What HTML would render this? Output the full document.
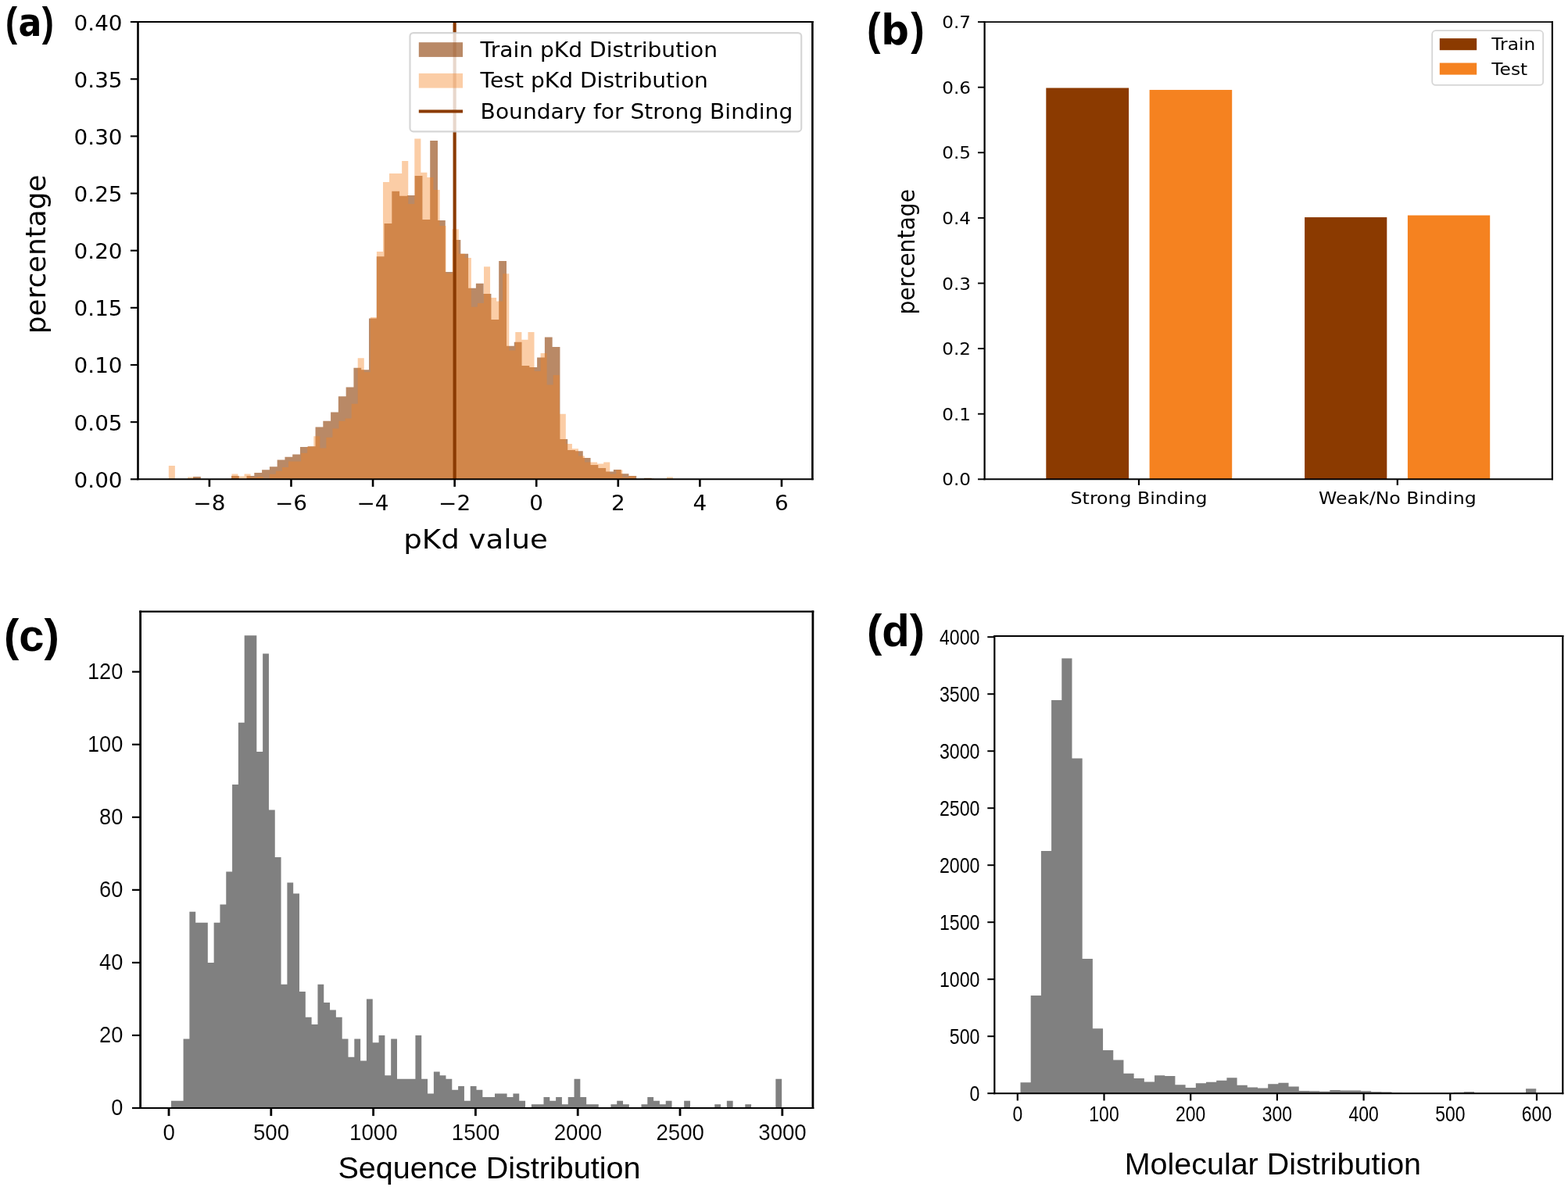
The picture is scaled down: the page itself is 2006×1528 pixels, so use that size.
<!DOCTYPE html>
<html lang="en"><head><meta charset="utf-8"><title>Dataset distributions</title>
<style>html,body{margin:0;padding:0;background:#fff;}body{width:2006px;height:1528px;overflow:hidden;}svg{display:block;}text{fill:#000;}</style>
</head><body>
<svg xmlns="http://www.w3.org/2000/svg" width="2006" height="1528" viewBox="0 0 2006 1528">
<rect x="0" y="0" width="2006" height="1528" fill="#fff"/>
<g id="panel-a">
<g>
<path d="M247.09 613.3 V610.1 H256.87 V613.3 Z M295.98 613.3 V609.1 H305.76 V613 H315.54 V609 H325.32 V605 H335.1 V601.2 H344.87 V597.2 H354.65 V588.4 H364.43 V584.8 H374.21 V581.6 H383.99 V572 H393.76 V571.3 H403.54 V546.4 H413.32 V538.8 H423.1 V527.4 H432.88 V507.3 H442.65 V495.4 H452.43 V470.7 H462.21 V473.2 H471.99 V407.4 H481.77 V328.2 H491.54 V286.1 H501.32 V244.7 H511.1 V250.7 H520.88 V250 H530.66 V225.1 H540.43 V280.9 H550.21 V179.9 H559.99 V281.9 H569.77 V348 H579.55 V307 H589.32 V324.7 H599.1 V368.8 H608.88 V362.7 H618.66 V376 H628.44 V409 H638.21 V333.9 H647.99 V442.7 H657.77 V437.7 H667.55 V468 H677.33 V470.1 H687.1 V457.5 H696.88 V431.5 H706.66 V444.1 H716.44 V562.1 H726.22 V576 H735.99 V577.3 H745.77 V586 H755.55 V595 H765.33 V599.1 H775.11 V603.5 H784.88 V601 H794.66 V606.2 H804.44 V609.1 H814.22 V612.7 H824 V611.8 H833.77 V613.3 Z" fill="#8b3a00" fill-opacity="0.6"/>
<path d="M215.8 613.3 V596.1 H223.86 V613.3 Z M239.99 613.3 V610.4 H248.06 V613.3 Z M288.38 613.3 V612.7 H296.44 V606.4 H304.5 V609.6 H312.57 V606.4 H320.63 V610.9 H328.7 V609.9 H336.76 V612.3 H344.82 V606.7 H352.89 V602.8 H360.95 V597.9 H369.02 V590.5 H377.08 V590.5 H385.14 V579.8 H393.21 V571.4 H401.27 V558.2 H409.34 V573.6 H417.4 V559.8 H425.46 V548.6 H433.53 V538.7 H441.59 V535.5 H449.66 V516.8 H457.72 V458.3 H465.78 V476.3 H473.85 V406 H481.91 V321.9 H489.98 V232.9 H498.04 V222.1 H506.1 V222.1 H514.17 V206.1 H522.23 V260.9 H530.3 V177.4 H538.36 V220.7 H546.42 V227 H554.49 V242.9 H562.55 V289 H570.62 V349.9 H578.68 V293.3 H586.74 V324.7 H594.81 V330 H602.87 V392.8 H610.94 V387.9 H619 V341.2 H627.06 V381 H635.13 V385.4 H643.19 V350.2 H651.26 V448.6 H659.32 V425 H667.38 V434.8 H675.45 V425 H683.51 V475.1 H691.58 V452 H699.64 V492.5 H707.7 V480.1 H715.77 V529.7 H723.83 V567.9 H731.9 V574.2 H739.96 V583.5 H748.02 V591.6 H756.09 V591.6 H764.15 V593.5 H772.22 V591.6 H780.28 V606.6 H788.34 V601.6 H796.41 V610.9 H804.47 V609.3 H812.54 V613.3 Z M828.66 613.3 V612.3 H836.73 V613.3 Z M852.86 613.3 V610.6 H860.92 V613.3 Z" fill="#f58220" fill-opacity="0.4"/>
</g>
<line x1="581.64" y1="28.05" x2="581.64" y2="613.3" stroke="#8b3a00" stroke-width="4.17" stroke-linecap="butt"/>
<line x1="175.2" y1="28.05" x2="1040.7" y2="28.05" stroke="#000" stroke-width="2.1" stroke-linecap="butt"/>
<line x1="175.2" y1="613.3" x2="1040.7" y2="613.3" stroke="#000" stroke-width="2.1" stroke-linecap="butt"/>
<line x1="176.5" y1="27" x2="176.5" y2="614.35" stroke="#000" stroke-width="2.6" stroke-linecap="butt"/>
<line x1="1039.4" y1="27" x2="1039.4" y2="614.35" stroke="#000" stroke-width="2.6" stroke-linecap="butt"/>
<line x1="267.9" y1="613.3" x2="267.9" y2="622.9" stroke="#000" stroke-width="2.6" stroke-linecap="butt"/>
<text transform="translate(267.9 653.4) scale(1.06 1)" font-family="'DejaVu Sans','Liberation Sans',sans-serif" font-size="26.3" font-weight="normal" text-anchor="middle">−8</text>
<line x1="372.48" y1="613.3" x2="372.48" y2="622.9" stroke="#000" stroke-width="2.6" stroke-linecap="butt"/>
<text transform="translate(372.48 653.4) scale(1.06 1)" font-family="'DejaVu Sans','Liberation Sans',sans-serif" font-size="26.3" font-weight="normal" text-anchor="middle">−6</text>
<line x1="477.06" y1="613.3" x2="477.06" y2="622.9" stroke="#000" stroke-width="2.6" stroke-linecap="butt"/>
<text transform="translate(477.06 653.4) scale(1.06 1)" font-family="'DejaVu Sans','Liberation Sans',sans-serif" font-size="26.3" font-weight="normal" text-anchor="middle">−4</text>
<line x1="581.64" y1="613.3" x2="581.64" y2="622.9" stroke="#000" stroke-width="2.6" stroke-linecap="butt"/>
<text transform="translate(581.64 653.4) scale(1.06 1)" font-family="'DejaVu Sans','Liberation Sans',sans-serif" font-size="26.3" font-weight="normal" text-anchor="middle">−2</text>
<line x1="686.22" y1="613.3" x2="686.22" y2="622.9" stroke="#000" stroke-width="2.6" stroke-linecap="butt"/>
<text transform="translate(686.22 653.4) scale(1.06 1)" font-family="'DejaVu Sans','Liberation Sans',sans-serif" font-size="26.3" font-weight="normal" text-anchor="middle">0</text>
<line x1="790.8" y1="613.3" x2="790.8" y2="622.9" stroke="#000" stroke-width="2.6" stroke-linecap="butt"/>
<text transform="translate(790.8 653.4) scale(1.06 1)" font-family="'DejaVu Sans','Liberation Sans',sans-serif" font-size="26.3" font-weight="normal" text-anchor="middle">2</text>
<line x1="895.38" y1="613.3" x2="895.38" y2="622.9" stroke="#000" stroke-width="2.6" stroke-linecap="butt"/>
<text transform="translate(895.38 653.4) scale(1.06 1)" font-family="'DejaVu Sans','Liberation Sans',sans-serif" font-size="26.3" font-weight="normal" text-anchor="middle">4</text>
<line x1="999.96" y1="613.3" x2="999.96" y2="622.9" stroke="#000" stroke-width="2.6" stroke-linecap="butt"/>
<text transform="translate(999.96 653.4) scale(1.06 1)" font-family="'DejaVu Sans','Liberation Sans',sans-serif" font-size="26.3" font-weight="normal" text-anchor="middle">6</text>
<line x1="166.9" y1="613.3" x2="176.5" y2="613.3" stroke="#000" stroke-width="2.1" stroke-linecap="butt"/>
<text transform="translate(156.6 623.8) scale(1.06 1)" font-family="'DejaVu Sans','Liberation Sans',sans-serif" font-size="26.3" font-weight="normal" text-anchor="end">0.00</text>
<line x1="166.9" y1="540.14" x2="176.5" y2="540.14" stroke="#000" stroke-width="2.1" stroke-linecap="butt"/>
<text transform="translate(156.6 550.64) scale(1.06 1)" font-family="'DejaVu Sans','Liberation Sans',sans-serif" font-size="26.3" font-weight="normal" text-anchor="end">0.05</text>
<line x1="166.9" y1="466.99" x2="176.5" y2="466.99" stroke="#000" stroke-width="2.1" stroke-linecap="butt"/>
<text transform="translate(156.6 477.49) scale(1.06 1)" font-family="'DejaVu Sans','Liberation Sans',sans-serif" font-size="26.3" font-weight="normal" text-anchor="end">0.10</text>
<line x1="166.9" y1="393.83" x2="176.5" y2="393.83" stroke="#000" stroke-width="2.1" stroke-linecap="butt"/>
<text transform="translate(156.6 404.33) scale(1.06 1)" font-family="'DejaVu Sans','Liberation Sans',sans-serif" font-size="26.3" font-weight="normal" text-anchor="end">0.15</text>
<line x1="166.9" y1="320.67" x2="176.5" y2="320.67" stroke="#000" stroke-width="2.1" stroke-linecap="butt"/>
<text transform="translate(156.6 331.17) scale(1.06 1)" font-family="'DejaVu Sans','Liberation Sans',sans-serif" font-size="26.3" font-weight="normal" text-anchor="end">0.20</text>
<line x1="166.9" y1="247.52" x2="176.5" y2="247.52" stroke="#000" stroke-width="2.1" stroke-linecap="butt"/>
<text transform="translate(156.6 258.02) scale(1.06 1)" font-family="'DejaVu Sans','Liberation Sans',sans-serif" font-size="26.3" font-weight="normal" text-anchor="end">0.25</text>
<line x1="166.9" y1="174.36" x2="176.5" y2="174.36" stroke="#000" stroke-width="2.1" stroke-linecap="butt"/>
<text transform="translate(156.6 184.86) scale(1.06 1)" font-family="'DejaVu Sans','Liberation Sans',sans-serif" font-size="26.3" font-weight="normal" text-anchor="end">0.30</text>
<line x1="166.9" y1="101.21" x2="176.5" y2="101.21" stroke="#000" stroke-width="2.1" stroke-linecap="butt"/>
<text transform="translate(156.6 111.71) scale(1.06 1)" font-family="'DejaVu Sans','Liberation Sans',sans-serif" font-size="26.3" font-weight="normal" text-anchor="end">0.35</text>
<line x1="166.9" y1="28.05" x2="176.5" y2="28.05" stroke="#000" stroke-width="2.1" stroke-linecap="butt"/>
<text transform="translate(156.6 38.55) scale(1.06 1)" font-family="'DejaVu Sans','Liberation Sans',sans-serif" font-size="26.3" font-weight="normal" text-anchor="end">0.40</text>
<text transform="translate(608.6 702.4) scale(1.076 1)" font-family="'DejaVu Sans','Liberation Sans',sans-serif" font-size="34.5" font-weight="normal" text-anchor="middle">pKd value</text>
<text transform="translate(57.9 325.4) rotate(-90) scale(0.992 1)" font-family="'DejaVu Sans','Liberation Sans',sans-serif" font-size="36.1" font-weight="normal" text-anchor="middle">percentage</text>
<rect x="524.5" y="42.1" width="500.7" height="126.2" rx="4.3" ry="4.3" fill="#fff" fill-opacity="0.8" stroke="#ccc" stroke-opacity="0.8" stroke-width="2.2"/>
<rect x="535.8" y="54.2" width="56.2" height="18.7" fill="#8b3a00" fill-opacity="0.6"/>
<rect x="535.8" y="93.9" width="56.2" height="18.7" fill="#f58220" fill-opacity="0.4"/>
<line x1="535.8" y1="142.5" x2="592" y2="142.5" stroke="#8b3a00" stroke-width="4" stroke-linecap="butt"/>
<text transform="translate(614.6 72.8) scale(1.057 1)" font-family="'DejaVu Sans','Liberation Sans',sans-serif" font-size="26.6" font-weight="normal" text-anchor="start">Train pKd Distribution</text>
<text transform="translate(614.6 112.4) scale(1.057 1)" font-family="'DejaVu Sans','Liberation Sans',sans-serif" font-size="26.6" font-weight="normal" text-anchor="start">Test pKd Distribution</text>
<text transform="translate(614.6 151.8) scale(1.057 1)" font-family="'DejaVu Sans','Liberation Sans',sans-serif" font-size="26.6" font-weight="normal" text-anchor="start">Boundary for Strong Binding</text>
<text transform="translate(7 46.3) scale(0.88 1)" font-weight="bold" text-anchor="start"><tspan font-family="'Liberation Sans','DejaVu Sans',sans-serif" font-size="51.6" dy="-0.65">(</tspan><tspan font-family="'DejaVu Sans','Liberation Sans',sans-serif" font-size="50.3" dx="1.5" dy="0.65">a</tspan><tspan font-family="'Liberation Sans','DejaVu Sans',sans-serif" font-size="51.6" dx="0.5" dy="-0.65">)</tspan></text>
</g>
<g id="panel-b">
<g>
<rect x="1338.3" y="112.54" width="105.8" height="500.76" fill="#8b3a00"/>
<rect x="1470.6" y="115.04" width="105.6" height="498.26" fill="#f58220"/>
<rect x="1669.1" y="278.06" width="105.2" height="335.24" fill="#8b3a00"/>
<rect x="1800.9" y="275.56" width="105.3" height="337.74" fill="#f58220"/>
</g>
<line x1="1258.5" y1="28.1" x2="1987" y2="28.1" stroke="#000" stroke-width="1.9" stroke-linecap="butt"/>
<line x1="1258.5" y1="613.3" x2="1987" y2="613.3" stroke="#000" stroke-width="1.9" stroke-linecap="butt"/>
<line x1="1259.6" y1="27.15" x2="1259.6" y2="614.25" stroke="#000" stroke-width="2.2" stroke-linecap="butt"/>
<line x1="1985.9" y1="27.15" x2="1985.9" y2="614.25" stroke="#000" stroke-width="2.2" stroke-linecap="butt"/>
<line x1="1251" y1="613.3" x2="1259.6" y2="613.3" stroke="#000" stroke-width="1.9" stroke-linecap="butt"/>
<text transform="translate(1242 621.4) scale(1.1 1)" font-family="'DejaVu Sans','Liberation Sans',sans-serif" font-size="21" font-weight="normal" text-anchor="end">0.0</text>
<line x1="1251" y1="529.7" x2="1259.6" y2="529.7" stroke="#000" stroke-width="1.9" stroke-linecap="butt"/>
<text transform="translate(1242 537.8) scale(1.1 1)" font-family="'DejaVu Sans','Liberation Sans',sans-serif" font-size="21" font-weight="normal" text-anchor="end">0.1</text>
<line x1="1251" y1="446.1" x2="1259.6" y2="446.1" stroke="#000" stroke-width="1.9" stroke-linecap="butt"/>
<text transform="translate(1242 454.2) scale(1.1 1)" font-family="'DejaVu Sans','Liberation Sans',sans-serif" font-size="21" font-weight="normal" text-anchor="end">0.2</text>
<line x1="1251" y1="362.5" x2="1259.6" y2="362.5" stroke="#000" stroke-width="1.9" stroke-linecap="butt"/>
<text transform="translate(1242 370.6) scale(1.1 1)" font-family="'DejaVu Sans','Liberation Sans',sans-serif" font-size="21" font-weight="normal" text-anchor="end">0.3</text>
<line x1="1251" y1="278.9" x2="1259.6" y2="278.9" stroke="#000" stroke-width="1.9" stroke-linecap="butt"/>
<text transform="translate(1242 287) scale(1.1 1)" font-family="'DejaVu Sans','Liberation Sans',sans-serif" font-size="21" font-weight="normal" text-anchor="end">0.4</text>
<line x1="1251" y1="195.3" x2="1259.6" y2="195.3" stroke="#000" stroke-width="1.9" stroke-linecap="butt"/>
<text transform="translate(1242 203.4) scale(1.1 1)" font-family="'DejaVu Sans','Liberation Sans',sans-serif" font-size="21" font-weight="normal" text-anchor="end">0.5</text>
<line x1="1251" y1="111.7" x2="1259.6" y2="111.7" stroke="#000" stroke-width="1.9" stroke-linecap="butt"/>
<text transform="translate(1242 119.8) scale(1.1 1)" font-family="'DejaVu Sans','Liberation Sans',sans-serif" font-size="21" font-weight="normal" text-anchor="end">0.6</text>
<line x1="1251" y1="28.1" x2="1259.6" y2="28.1" stroke="#000" stroke-width="1.9" stroke-linecap="butt"/>
<text transform="translate(1242 36.2) scale(1.1 1)" font-family="'DejaVu Sans','Liberation Sans',sans-serif" font-size="21" font-weight="normal" text-anchor="end">0.7</text>
<line x1="1457" y1="613.3" x2="1457" y2="620.9" stroke="#000" stroke-width="2.2" stroke-linecap="butt"/>
<text transform="translate(1457 644.5) scale(1.11 1)" font-family="'DejaVu Sans','Liberation Sans',sans-serif" font-size="21.3" font-weight="normal" text-anchor="middle">Strong Binding</text>
<line x1="1787.8" y1="613.3" x2="1787.8" y2="620.9" stroke="#000" stroke-width="2.2" stroke-linecap="butt"/>
<text transform="translate(1787.8 644.5) scale(1.11 1)" font-family="'DejaVu Sans','Liberation Sans',sans-serif" font-size="21.3" font-weight="normal" text-anchor="middle">Weak/No Binding</text>
<text transform="translate(1169.5 322.2) rotate(-90) scale(0.92 1)" font-family="'DejaVu Sans','Liberation Sans',sans-serif" font-size="30.7" font-weight="normal" text-anchor="middle">percentage</text>
<rect x="1832.2" y="39.2" width="142" height="69.7" rx="4.5" ry="4.5" fill="#fff" fill-opacity="0.8" stroke="#ccc" stroke-opacity="0.8" stroke-width="1.8"/>
<rect x="1841.8" y="49.1" width="47.4" height="15.1" fill="#8b3a00"/>
<rect x="1841.8" y="80.5" width="47.4" height="15.1" fill="#f58220"/>
<text transform="translate(1908.3 64.2) scale(1.095 1)" font-family="'DejaVu Sans','Liberation Sans',sans-serif" font-size="21.3" font-weight="normal" text-anchor="start">Train</text>
<text transform="translate(1908.3 95.8) scale(1.095 1)" font-family="'DejaVu Sans','Liberation Sans',sans-serif" font-size="21.3" font-weight="normal" text-anchor="start">Test</text>
<text transform="translate(1109 57.2) scale(0.92 1)" font-weight="bold" text-anchor="start"><tspan font-family="'Liberation Sans','DejaVu Sans',sans-serif" font-size="57.1">(</tspan><tspan font-family="'DejaVu Sans','Liberation Sans',sans-serif" font-size="54.2" dx="0.8">b</tspan><tspan font-family="'Liberation Sans','DejaVu Sans',sans-serif" font-size="57.1" dx="2.4">)</tspan></text>
</g>
<g id="panel-c">
<path d="M218.95 1418 V1408.69 H226.76 V1408.69 H234.57 V1329.6 H242.39 V1166.77 H250.2 V1180.72 H258.01 V1180.72 H265.82 V1231.9 H273.63 V1180.72 H281.45 V1157.46 H289.26 V1115.59 H297.07 V1003.93 H304.88 V924.84 H312.69 V813.18 H320.51 V813.18 H328.32 V962.06 H336.13 V836.44 H343.94 V1036.49 H351.75 V1096.98 H359.57 V1259.82 H367.38 V1129.55 H375.19 V1143.5 H383 V1269.12 H390.81 V1301.69 H398.63 V1310.99 H406.44 V1259.82 H414.25 V1283.08 H422.06 V1292.38 H429.87 V1301.69 H437.69 V1329.6 H445.5 V1352.87 H453.31 V1329.6 H461.12 V1357.52 H468.93 V1278.42 H476.75 V1334.26 H484.56 V1324.95 H492.37 V1376.13 H500.18 V1329.6 H507.99 V1380.78 H515.81 V1380.78 H523.62 V1380.78 H531.43 V1324.95 H539.24 V1380.78 H547.05 V1399.39 H554.87 V1371.47 H562.68 V1376.13 H570.49 V1380.78 H578.3 V1394.74 H586.11 V1390.09 H593.93 V1408.69 H601.74 V1390.09 H609.55 V1394.74 H617.36 V1404.04 H625.17 V1404.04 H632.99 V1399.39 H640.8 V1399.39 H648.61 V1404.04 H656.42 V1399.39 H664.23 V1408.69 H672.05 V1418 Z M679.86 1418 V1413.35 H687.67 V1413.35 H695.48 V1404.04 H703.29 V1408.69 H711.11 V1404.04 H718.92 V1413.35 H726.73 V1404.04 H734.54 V1380.78 H742.35 V1404.04 H750.17 V1413.35 H757.98 V1413.35 H765.79 V1418 Z M781.41 1418 V1413.35 H789.23 V1408.69 H797.04 V1413.35 H804.85 V1418 Z M820.47 1418 V1413.35 H828.29 V1404.04 H836.1 V1408.69 H843.91 V1413.35 H851.72 V1408.69 H859.53 V1418 Z M875.16 1418 V1408.69 H882.97 V1418 Z M914.22 1418 V1413.35 H922.03 V1418 Z M929.84 1418 V1408.69 H937.65 V1418 Z M953.28 1418 V1413.35 H961.09 V1418 Z M992.34 1418 V1380.78 H1000.15 V1418 Z" fill="#808080"/>
<line x1="178.2" y1="782.6" x2="1041.3" y2="782.6" stroke="#000" stroke-width="2.2" stroke-linecap="butt"/>
<line x1="178.2" y1="1418" x2="1041.3" y2="1418" stroke="#000" stroke-width="2.2" stroke-linecap="butt"/>
<line x1="179.6" y1="781.5" x2="179.6" y2="1419.1" stroke="#000" stroke-width="2.8" stroke-linecap="butt"/>
<line x1="1039.9" y1="781.5" x2="1039.9" y2="1419.1" stroke="#000" stroke-width="2.8" stroke-linecap="butt"/>
<line x1="216" y1="1418" x2="216" y2="1428.1" stroke="#000" stroke-width="2.8" stroke-linecap="butt"/>
<text transform="translate(216.2 1458.5) scale(0.95 1)" font-family="'Liberation Sans','DejaVu Sans',sans-serif" font-size="29.1" font-weight="normal" text-anchor="middle" stroke="#fff" stroke-width="0.14">0</text>
<line x1="346.8" y1="1418" x2="346.8" y2="1428.1" stroke="#000" stroke-width="2.8" stroke-linecap="butt"/>
<text transform="translate(347 1458.5) scale(0.95 1)" font-family="'Liberation Sans','DejaVu Sans',sans-serif" font-size="29.1" font-weight="normal" text-anchor="middle" stroke="#fff" stroke-width="0.14">500</text>
<line x1="477.6" y1="1418" x2="477.6" y2="1428.1" stroke="#000" stroke-width="2.8" stroke-linecap="butt"/>
<text transform="translate(477.8 1458.5) scale(0.95 1)" font-family="'Liberation Sans','DejaVu Sans',sans-serif" font-size="29.1" font-weight="normal" text-anchor="middle" stroke="#fff" stroke-width="0.14">1000</text>
<line x1="608.4" y1="1418" x2="608.4" y2="1428.1" stroke="#000" stroke-width="2.8" stroke-linecap="butt"/>
<text transform="translate(608.6 1458.5) scale(0.95 1)" font-family="'Liberation Sans','DejaVu Sans',sans-serif" font-size="29.1" font-weight="normal" text-anchor="middle" stroke="#fff" stroke-width="0.14">1500</text>
<line x1="739.2" y1="1418" x2="739.2" y2="1428.1" stroke="#000" stroke-width="2.8" stroke-linecap="butt"/>
<text transform="translate(739.4 1458.5) scale(0.95 1)" font-family="'Liberation Sans','DejaVu Sans',sans-serif" font-size="29.1" font-weight="normal" text-anchor="middle" stroke="#fff" stroke-width="0.14">2000</text>
<line x1="870" y1="1418" x2="870" y2="1428.1" stroke="#000" stroke-width="2.8" stroke-linecap="butt"/>
<text transform="translate(870.2 1458.5) scale(0.95 1)" font-family="'Liberation Sans','DejaVu Sans',sans-serif" font-size="29.1" font-weight="normal" text-anchor="middle" stroke="#fff" stroke-width="0.14">2500</text>
<line x1="1000.8" y1="1418" x2="1000.8" y2="1428.1" stroke="#000" stroke-width="2.8" stroke-linecap="butt"/>
<text transform="translate(1001 1458.5) scale(0.95 1)" font-family="'Liberation Sans','DejaVu Sans',sans-serif" font-size="29.1" font-weight="normal" text-anchor="middle" stroke="#fff" stroke-width="0.14">3000</text>
<line x1="169" y1="1418" x2="179.6" y2="1418" stroke="#000" stroke-width="2.2" stroke-linecap="butt"/>
<text transform="translate(157.3 1426.8) scale(0.935 1)" font-family="'Liberation Sans','DejaVu Sans',sans-serif" font-size="29.1" font-weight="normal" text-anchor="end" stroke="#fff" stroke-width="0.14">0</text>
<line x1="169" y1="1324.95" x2="179.6" y2="1324.95" stroke="#000" stroke-width="2.2" stroke-linecap="butt"/>
<text transform="translate(157.3 1333.75) scale(0.935 1)" font-family="'Liberation Sans','DejaVu Sans',sans-serif" font-size="29.1" font-weight="normal" text-anchor="end" stroke="#fff" stroke-width="0.14">20</text>
<line x1="169" y1="1231.9" x2="179.6" y2="1231.9" stroke="#000" stroke-width="2.2" stroke-linecap="butt"/>
<text transform="translate(157.3 1240.7) scale(0.935 1)" font-family="'Liberation Sans','DejaVu Sans',sans-serif" font-size="29.1" font-weight="normal" text-anchor="end" stroke="#fff" stroke-width="0.14">40</text>
<line x1="169" y1="1138.85" x2="179.6" y2="1138.85" stroke="#000" stroke-width="2.2" stroke-linecap="butt"/>
<text transform="translate(157.3 1147.65) scale(0.935 1)" font-family="'Liberation Sans','DejaVu Sans',sans-serif" font-size="29.1" font-weight="normal" text-anchor="end" stroke="#fff" stroke-width="0.14">60</text>
<line x1="169" y1="1045.8" x2="179.6" y2="1045.8" stroke="#000" stroke-width="2.2" stroke-linecap="butt"/>
<text transform="translate(157.3 1054.6) scale(0.935 1)" font-family="'Liberation Sans','DejaVu Sans',sans-serif" font-size="29.1" font-weight="normal" text-anchor="end" stroke="#fff" stroke-width="0.14">80</text>
<line x1="169" y1="952.75" x2="179.6" y2="952.75" stroke="#000" stroke-width="2.2" stroke-linecap="butt"/>
<text transform="translate(157.3 961.55) scale(0.935 1)" font-family="'Liberation Sans','DejaVu Sans',sans-serif" font-size="29.1" font-weight="normal" text-anchor="end" stroke="#fff" stroke-width="0.14">100</text>
<line x1="169" y1="859.7" x2="179.6" y2="859.7" stroke="#000" stroke-width="2.2" stroke-linecap="butt"/>
<text transform="translate(157.3 868.5) scale(0.935 1)" font-family="'Liberation Sans','DejaVu Sans',sans-serif" font-size="29.1" font-weight="normal" text-anchor="end" stroke="#fff" stroke-width="0.14">120</text>
<text transform="translate(626 1507.9)" font-family="'Liberation Sans','DejaVu Sans',sans-serif" font-size="39.6" font-weight="normal" text-anchor="middle">Sequence Distribution</text>
<text transform="translate(4.9 833.1)" font-family="'Liberation Sans','DejaVu Sans',sans-serif" font-size="58" font-weight="bold" text-anchor="start">(c)</text>
</g>
<g id="panel-d">
<path d="M1305.5 1399.2 V1385.18 H1318.69 V1274.08 H1331.89 V1089.1 H1345.09 V896.08 H1358.28 V842.5 H1371.47 V970.54 H1384.67 V1226.92 H1397.87 V1316.27 H1411.06 V1344.01 H1424.26 V1356.42 H1437.45 V1373.8 H1450.64 V1379.93 H1463.84 V1384.6 H1477.04 V1376.28 H1490.23 V1377.01 H1503.42 V1388.25 H1516.62 V1392.05 H1529.82 V1386.35 H1543.01 V1384.75 H1556.2 V1382.85 H1569.4 V1379.34 H1582.6 V1388.83 H1595.79 V1391.61 H1608.99 V1392.48 H1622.18 V1387.37 H1635.38 V1385.77 H1648.57 V1390.59 H1661.76 V1395.99 H1674.96 V1396.28 H1688.15 V1396.72 H1701.35 V1395.11 H1714.55 V1395.55 H1727.74 V1395.55 H1740.93 V1396.13 H1754.13 V1397.16 H1767.33 V1397.45 H1780.52 V1398.76 H1793.72 V1399.05 H1806.91 V1399.05 H1820.11 V1399.2 Z M1859.69 1399.2 V1397.89 H1872.88 V1397.3 H1886.08 V1398.91 H1899.28 V1399.2 Z M1952.06 1399.2 V1393.21 H1965.25 V1399.2 Z" fill="#808080"/>
<line x1="1271.2" y1="813.9" x2="2000.4" y2="813.9" stroke="#000" stroke-width="2" stroke-linecap="butt"/>
<line x1="1271.2" y1="1399.2" x2="2000.4" y2="1399.2" stroke="#000" stroke-width="2" stroke-linecap="butt"/>
<line x1="1272.3" y1="812.9" x2="1272.3" y2="1400.2" stroke="#000" stroke-width="2.2" stroke-linecap="butt"/>
<line x1="1999.3" y1="812.9" x2="1999.3" y2="1400.2" stroke="#000" stroke-width="2.2" stroke-linecap="butt"/>
<line x1="1301.8" y1="1399.2" x2="1301.8" y2="1408.5" stroke="#000" stroke-width="2.2" stroke-linecap="butt"/>
<text transform="translate(1301.8 1435.4) scale(0.85 1)" font-family="'Liberation Sans','DejaVu Sans',sans-serif" font-size="27" font-weight="normal" text-anchor="middle">0</text>
<line x1="1412.5" y1="1399.2" x2="1412.5" y2="1408.5" stroke="#000" stroke-width="2.2" stroke-linecap="butt"/>
<text transform="translate(1412.5 1435.4) scale(0.85 1)" font-family="'Liberation Sans','DejaVu Sans',sans-serif" font-size="27" font-weight="normal" text-anchor="middle">100</text>
<line x1="1523.2" y1="1399.2" x2="1523.2" y2="1408.5" stroke="#000" stroke-width="2.2" stroke-linecap="butt"/>
<text transform="translate(1523.2 1435.4) scale(0.85 1)" font-family="'Liberation Sans','DejaVu Sans',sans-serif" font-size="27" font-weight="normal" text-anchor="middle">200</text>
<line x1="1633.9" y1="1399.2" x2="1633.9" y2="1408.5" stroke="#000" stroke-width="2.2" stroke-linecap="butt"/>
<text transform="translate(1633.9 1435.4) scale(0.85 1)" font-family="'Liberation Sans','DejaVu Sans',sans-serif" font-size="27" font-weight="normal" text-anchor="middle">300</text>
<line x1="1744.6" y1="1399.2" x2="1744.6" y2="1408.5" stroke="#000" stroke-width="2.2" stroke-linecap="butt"/>
<text transform="translate(1744.6 1435.4) scale(0.85 1)" font-family="'Liberation Sans','DejaVu Sans',sans-serif" font-size="27" font-weight="normal" text-anchor="middle">400</text>
<line x1="1855.3" y1="1399.2" x2="1855.3" y2="1408.5" stroke="#000" stroke-width="2.2" stroke-linecap="butt"/>
<text transform="translate(1855.3 1435.4) scale(0.85 1)" font-family="'Liberation Sans','DejaVu Sans',sans-serif" font-size="27" font-weight="normal" text-anchor="middle">500</text>
<line x1="1966" y1="1399.2" x2="1966" y2="1408.5" stroke="#000" stroke-width="2.2" stroke-linecap="butt"/>
<text transform="translate(1966 1435.4) scale(0.85 1)" font-family="'Liberation Sans','DejaVu Sans',sans-serif" font-size="27" font-weight="normal" text-anchor="middle">600</text>
<line x1="1263.3" y1="1399.2" x2="1272.3" y2="1399.2" stroke="#000" stroke-width="2" stroke-linecap="butt"/>
<text transform="translate(1253.4 1408.5) scale(0.858 1)" font-family="'Liberation Sans','DejaVu Sans',sans-serif" font-size="27" font-weight="normal" text-anchor="end">0</text>
<line x1="1263.3" y1="1326.2" x2="1272.3" y2="1326.2" stroke="#000" stroke-width="2" stroke-linecap="butt"/>
<text transform="translate(1253.4 1335.5) scale(0.858 1)" font-family="'Liberation Sans','DejaVu Sans',sans-serif" font-size="27" font-weight="normal" text-anchor="end">500</text>
<line x1="1263.3" y1="1253.2" x2="1272.3" y2="1253.2" stroke="#000" stroke-width="2" stroke-linecap="butt"/>
<text transform="translate(1253.4 1262.5) scale(0.858 1)" font-family="'Liberation Sans','DejaVu Sans',sans-serif" font-size="27" font-weight="normal" text-anchor="end">1000</text>
<line x1="1263.3" y1="1180.2" x2="1272.3" y2="1180.2" stroke="#000" stroke-width="2" stroke-linecap="butt"/>
<text transform="translate(1253.4 1189.5) scale(0.858 1)" font-family="'Liberation Sans','DejaVu Sans',sans-serif" font-size="27" font-weight="normal" text-anchor="end">1500</text>
<line x1="1263.3" y1="1107.2" x2="1272.3" y2="1107.2" stroke="#000" stroke-width="2" stroke-linecap="butt"/>
<text transform="translate(1253.4 1116.5) scale(0.858 1)" font-family="'Liberation Sans','DejaVu Sans',sans-serif" font-size="27" font-weight="normal" text-anchor="end">2000</text>
<line x1="1263.3" y1="1034.2" x2="1272.3" y2="1034.2" stroke="#000" stroke-width="2" stroke-linecap="butt"/>
<text transform="translate(1253.4 1043.5) scale(0.858 1)" font-family="'Liberation Sans','DejaVu Sans',sans-serif" font-size="27" font-weight="normal" text-anchor="end">2500</text>
<line x1="1263.3" y1="961.2" x2="1272.3" y2="961.2" stroke="#000" stroke-width="2" stroke-linecap="butt"/>
<text transform="translate(1253.4 970.5) scale(0.858 1)" font-family="'Liberation Sans','DejaVu Sans',sans-serif" font-size="27" font-weight="normal" text-anchor="end">3000</text>
<line x1="1263.3" y1="888.2" x2="1272.3" y2="888.2" stroke="#000" stroke-width="2" stroke-linecap="butt"/>
<text transform="translate(1253.4 897.5) scale(0.858 1)" font-family="'Liberation Sans','DejaVu Sans',sans-serif" font-size="27" font-weight="normal" text-anchor="end">3500</text>
<line x1="1263.3" y1="815.2" x2="1272.3" y2="815.2" stroke="#000" stroke-width="2" stroke-linecap="butt"/>
<text transform="translate(1253.4 824.5) scale(0.858 1)" font-family="'Liberation Sans','DejaVu Sans',sans-serif" font-size="27" font-weight="normal" text-anchor="end">4000</text>
<text transform="translate(1628.4 1502.5) scale(1.012 1)" font-family="'Liberation Sans','DejaVu Sans',sans-serif" font-size="39" font-weight="normal" text-anchor="middle">Molecular Distribution</text>
<text transform="translate(1109 826.6)" font-family="'Liberation Sans','DejaVu Sans',sans-serif" font-size="58" font-weight="bold" text-anchor="start">(d)</text>
</g>
</svg></body></html>
